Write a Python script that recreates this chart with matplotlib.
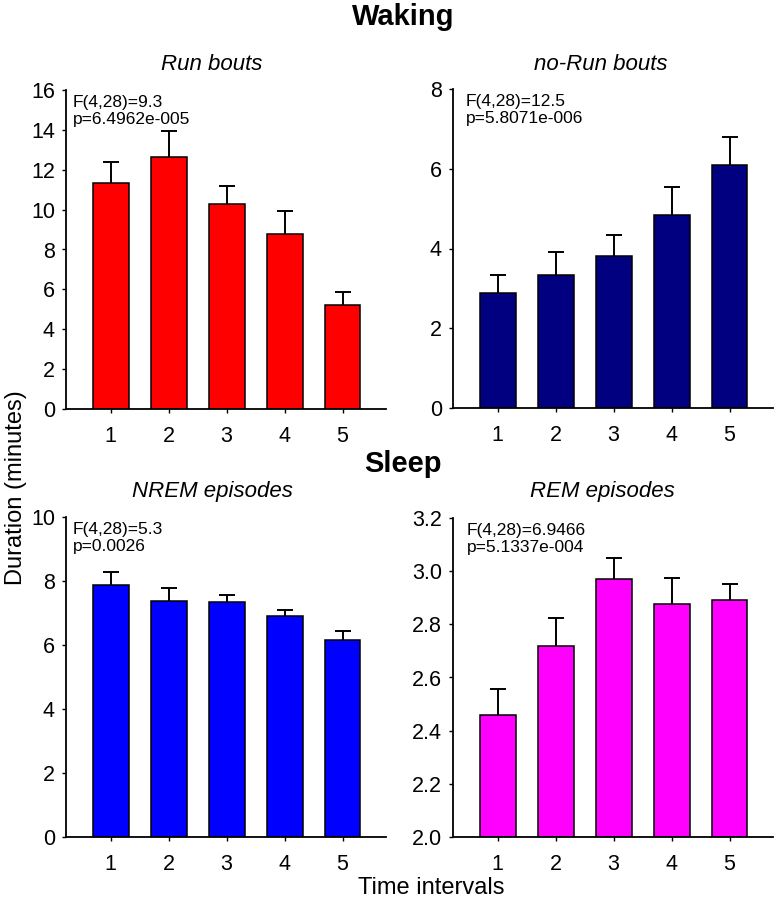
import matplotlib
matplotlib.use("Agg")
import matplotlib.pyplot as plt
import numpy as np

plt.rcParams['font.family'] = ['Liberation Sans', 'DejaVu Sans']

intervals = [1, 2, 3, 4, 5]

run_mean = [11.35, 12.64, 10.26, 8.76, 5.23]
run_err = [1.05, 1.30, 0.94, 1.15, 0.62]

norun_mean = [2.88, 3.34, 3.80, 4.85, 6.09]
norun_err = [0.46, 0.58, 0.53, 0.70, 0.71]

nrem_mean = [7.86, 7.36, 7.35, 6.92, 6.16]
nrem_err = [0.42, 0.42, 0.22, 0.18, 0.27]

rem_mean = [2.459, 2.720, 2.970, 2.876, 2.890]
rem_err = [0.097, 0.103, 0.078, 0.099, 0.061]

titles = ["Run bouts", "no-Run bouts", "NREM episodes", "REM episodes"]
stats = ["F(4,28)=9.3\np=6.4962e-005",
         "F(4,28)=12.5\np=5.8071e-006",
         "F(4,28)=5.3\np=0.0026",
         "F(4,28)=6.9466\np=5.1337e-004"]
colors = ["#FF0000", "#000080", "#0000FF", "#FF00FF"]
ylims = [(0, 16), (0, 8), (0, 10), (2.0, 3.2)]
yticks = [np.arange(0, 17, 2), np.arange(0, 9, 2), np.arange(0, 11, 2),
          np.round(np.arange(2.0, 3.21, 0.2), 1)]

W, H = 780, 909
fig = plt.figure(figsize=(W / 100, H / 100), dpi=100)

# axes pixel rects: left, top, width, bottom
rects = [(66, 90, 320, 409), (453, 89, 320, 408),
         (66, 517, 320, 837), (453, 518, 320, 837)]
title_pos = [(212, 65), (601, 65), (212, 492), (602, 492)]
stat_dx = [0.022, 0.040, 0.022, 0.044]

means = [run_mean, norun_mean, nrem_mean, rem_mean]
errs = [run_err, norun_err, nrem_err, rem_err]

for i in range(4):
    l, t, w, b = rects[i]
    ax = fig.add_axes([l / W, (H - b) / H, w / W, (b - t) / H])
    lo, hi = ylims[i]
    ax.bar(intervals, np.array(means[i]) - lo, bottom=lo, width=0.62,
           color=colors[i], edgecolor='black', linewidth=1.1, zorder=2)
    eb = ax.errorbar(intervals, means[i], yerr=[np.zeros(5), errs[i]], fmt='none',
                     ecolor='black', elinewidth=1.4, capsize=6, capthick=1.4, zorder=1)
    eb[1][0].set_visible(False)
    ax.set_xlim(0.23, 5.75)
    ax.set_ylim(lo, hi)
    ax.set_xticks(intervals)
    ax.set_yticks(yticks[i])
    if i == 3:
        ax.set_yticklabels([f"{v:.1f}" for v in yticks[i]])
    for s in ['top', 'right']:
        ax.spines[s].set_visible(False)
    for s in ['left', 'bottom']:
        ax.spines[s].set_linewidth(1.3)
    ax.tick_params(axis='x', length=3, width=1.0, pad=9, labelsize=15.5)
    ax.tick_params(axis='y', length=3, width=1.0, pad=5, labelsize=15.5)
    ax.text(stat_dx[i], 0.985, stats[i], transform=ax.transAxes, ha='left', va='top',
            fontsize=12.5, linespacing=1.2)
    tx, ty = title_pos[i]
    fig.text(tx / W, 1 - ty / H, titles[i], ha='center', va='center',
             fontsize=16, style='italic')

fig.text(403 / W, 1 - 17 / H, "Waking", ha='center', va='center',
         fontsize=21, fontweight='bold')
fig.text(403 / W, 1 - 464 / H, "Sleep", ha='center', va='center',
         fontsize=21, fontweight='bold')
fig.text(16 / W, 1 - 488 / H, "Duration (minutes)", ha='center', va='center',
         rotation=90, fontsize=17)
fig.text(431 / W, 1 - 888 / H, "Time intervals", ha='center', va='center',
         fontsize=17)

fig.savefig("out.png", dpi=100)
